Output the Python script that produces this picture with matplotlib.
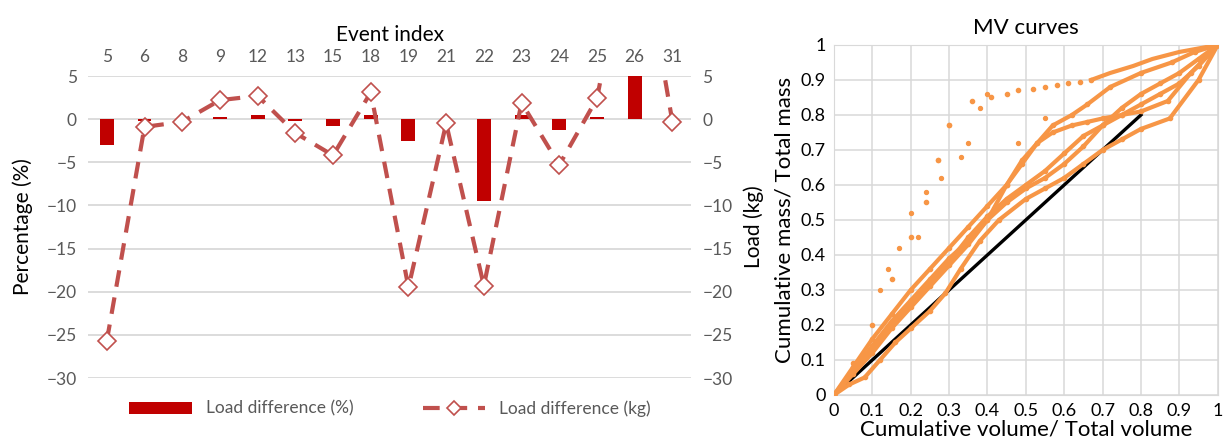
import matplotlib.pyplot as plt
import numpy as np

plt.rcParams['font.family'] = ['Lato', 'DejaVu Sans']

bar_red = '#C00000'
line_red = '#C0504D'
orange = '#F79646'
grey_txt = '#595959'
grid_c = '#D9D9D9'

# left panel data
events = ['5', '6', '8', '9', '12', '13', '15', '18', '19', '21', '22', '23', '24', '25', '26', '31']
load_pct = [-3.0, -0.2, 0.0, 0.3, 0.5, -0.2, -0.8, 0.5, -2.5, 0.0, -9.5, 0.5, -1.3, 0.3, 6.0, 0.0]
load_kg = [-25.7, -0.9, -0.3, 2.2, 2.7, -1.6, -4.2, 3.1, -19.5, -0.5, -19.3, 1.9, -5.3, 2.4, 25.0, -0.3]

# right panel data (MV curves)
c1_x = [0, 0.05, 0.1, 0.15, 0.2, 0.24, 0.27, 0.3, 0.36, 0.41, 0.45, 0.48, 0.52, 0.55, 0.58, 0.61, 0.64, 0.67, 0.72, 0.78, 0.83, 0.9, 0.95, 1.0]
c1_y = [0, 0.09, 0.2, 0.33, 0.45, 0.55, 0.67, 0.77, 0.84, 0.85, 0.86, 0.87, 0.875, 0.88, 0.885, 0.89, 0.895, 0.9, 0.92, 0.94, 0.96, 0.98, 0.99, 1.0]
c2_x = [0, 0.05, 0.1, 0.15, 0.2, 0.25, 0.3, 0.35, 0.4, 0.45, 0.49, 0.53, 0.57, 0.62, 0.66, 0.72, 0.8, 0.88, 0.94, 1.0]
c2_y = [0, 0.08, 0.16, 0.23, 0.3, 0.36, 0.42, 0.48, 0.54, 0.6, 0.66, 0.72, 0.77, 0.8, 0.83, 0.88, 0.92, 0.95, 0.98, 1.0]
c3_x = [0, 0.05, 0.1, 0.15, 0.2, 0.25, 0.3, 0.35, 0.4, 0.45, 0.5, 0.55, 0.6, 0.65, 0.7, 0.75, 0.8, 0.85, 0.9, 0.95, 1.0]
c3_y = [0, 0.07, 0.14, 0.21, 0.27, 0.33, 0.39, 0.44, 0.5, 0.55, 0.59, 0.62, 0.66, 0.71, 0.77, 0.82, 0.86, 0.89, 0.92, 0.96, 1.0]
c4_x = [0, 0.05, 0.1, 0.15, 0.2, 0.25, 0.3, 0.35, 0.4, 0.45, 0.49, 0.53, 0.57, 0.62, 0.66, 0.7, 0.75, 0.8, 0.87, 0.93, 1.0]
c4_y = [0, 0.06, 0.12, 0.19, 0.25, 0.31, 0.37, 0.43, 0.5, 0.6, 0.67, 0.72, 0.75, 0.77, 0.78, 0.79, 0.8, 0.81, 0.84, 0.92, 1.0]
c5_x = [0, 0.04, 0.08, 0.12, 0.16, 0.2, 0.25, 0.29, 0.33, 0.38, 0.43, 0.5, 0.55, 0.6, 0.65, 0.7, 0.75, 0.8, 0.875, 0.95, 1.0]
c5_y = [0, 0.03, 0.05, 0.1, 0.15, 0.19, 0.24, 0.29, 0.36, 0.44, 0.5, 0.56, 0.59, 0.62, 0.66, 0.7, 0.73, 0.76, 0.79, 0.9, 1.0]
c6_x = [0, 0.05, 0.1, 0.15, 0.2, 0.25, 0.3, 0.35, 0.4, 0.45, 0.5, 0.55, 0.6, 0.65, 0.7, 0.75, 0.8, 0.85, 0.9, 0.95, 1.0]
c6_y = [0, 0.065, 0.13, 0.2, 0.26, 0.32, 0.38, 0.45, 0.51, 0.56, 0.6, 0.64, 0.69, 0.74, 0.77, 0.8, 0.83, 0.86, 0.89, 0.94, 1.0]
scat_x = [0.27, 0.3, 0.2, 0.22, 0.33, 0.35, 0.17, 0.12, 0.14, 0.24, 0.28, 0.4, 0.38, 0.48, 0.55]
scat_y = [0.67, 0.77, 0.52, 0.45, 0.68, 0.72, 0.42, 0.3, 0.36, 0.58, 0.62, 0.86, 0.82, 0.72, 0.79]
diag_x = [0.0, 0.8]
diag_y = [0.0, 0.8]

fig = plt.figure(figsize=(12.3, 4.43), dpi=100)

# ---- left panel ----
ax = fig.add_axes([0.0715, 0.1467, 0.4905, 0.6817])
ind = np.arange(len(events))
ax.bar(ind, load_pct, width=0.37, color=bar_red, label='Load difference (%)', zorder=2)
ax.set_ylim(-30, 5)
ax.set_xlim(-0.5, len(events) - 0.5)
ax.set_yticks(np.arange(-30, 6, 5))
ax.grid(axis='y', color=grid_c, lw=1.3)
ax.set_axisbelow(True)
ax.xaxis.tick_top()
ax.xaxis.set_label_position('top')
ax.set_xticks(ind)
ax.set_xticklabels(events)
ax.tick_params(length=0, labelsize=12.5, labelcolor=grey_txt, pad=8)
ax.set_xlabel('Event index', fontsize=15, labelpad=6)
ax.set_ylabel('Percentage (%)', fontsize=15, labelpad=10)
for s in ax.spines.values():
    s.set_visible(False)

ax2 = ax.twinx()
ax2.plot(ind, load_kg, color=line_red, lw=3, ls=(0, (4, 2.6)), marker='D', ms=9,
         mfc='white', mec=line_red, mew=1.2, label='Load difference (kg)', zorder=3)
ax2.set_ylim(-30, 5)
ax2.set_yticks(np.arange(-30, 6, 5))
ax2.tick_params(length=0, labelsize=12.5, labelcolor=grey_txt, pad=8)
ax2.set_ylabel('Load (kg)', fontsize=15, labelpad=8)
for s in ax2.spines.values():
    s.set_visible(False)

h1, l1 = ax.get_legend_handles_labels()
h2, l2 = ax2.get_legend_handles_labels()
leg = fig.legend(h1 + h2, l1 + l2, loc='center', bbox_to_anchor=(0.317, 0.078), ncol=2,
                 frameon=False, fontsize=12.5, handlelength=3.6, columnspacing=4,
                 markerscale=0.75)
for t in leg.get_texts():
    t.set_color(grey_txt)

# ---- right panel ----
bx = fig.add_axes([0.678, 0.1084, 0.312, 0.7901])
bx.plot(diag_x, diag_y, color='black', lw=2.4, zorder=2)
# sparse part of the top curve is only dots, the rest is a dense band
bx.plot(c1_x[:18], c1_y[:18], 'o', color=orange, ms=3, zorder=3)
bx.plot(c1_x[17:], c1_y[17:], color=orange, lw=3, zorder=3)
for cx, cy in [(c2_x, c2_y), (c3_x, c3_y), (c4_x, c4_y), (c5_x, c5_y), (c6_x, c6_y)]:
    bx.plot(cx, cy, color=orange, lw=3, marker='o', ms=3, zorder=3)
bx.scatter(scat_x, scat_y, s=8, color=orange, zorder=3)
bx.set_xlim(0, 1)
bx.set_ylim(0, 1)
ticks = np.round(np.arange(0, 1.01, 0.1), 1)
tick_lbl = ['0'] + ['%.1f' % t for t in ticks[1:-1]] + ['1']
bx.set_xticks(ticks)
bx.set_xticklabels(tick_lbl)
bx.set_yticks(ticks)
bx.set_yticklabels(tick_lbl)
bx.grid(color=grid_c, lw=1.1)
bx.set_axisbelow(True)
bx.tick_params(length=0, labelsize=13, pad=6)
for s in bx.spines.values():
    s.set_color(grid_c)
bx.set_title('MV curves', fontsize=16, pad=8)
bx.set_xlabel('Cumulative volume/ Total volume', fontsize=16, labelpad=0)
bx.set_ylabel('Cumulative mass/ Total mass', fontsize=16, labelpad=4)

fig.savefig('out.png', dpi=100)
